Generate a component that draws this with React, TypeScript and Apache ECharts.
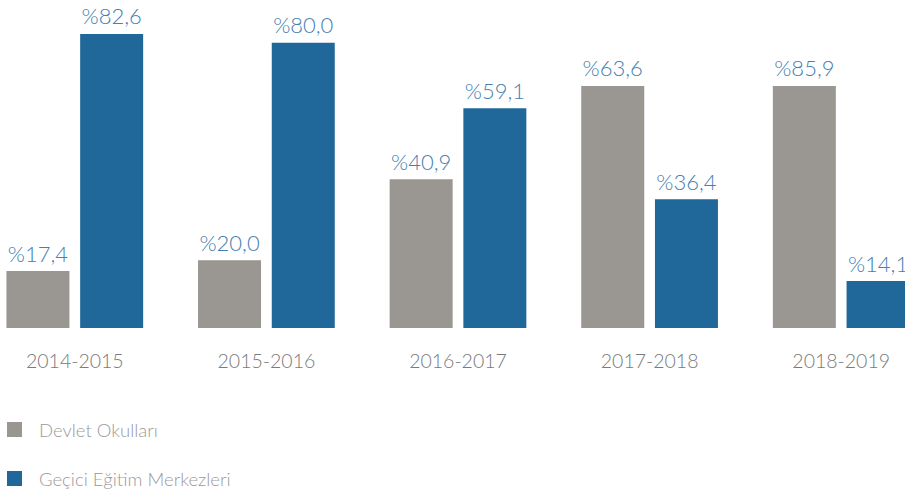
import React, { useEffect, useRef } from "react";
import * as echarts from "echarts";

// Categories (school years)
const years = ["2014-2015", "2015-2016", "2016-2017", "2017-2018", "2018-2019"];
const seriesNames = ["Devlet Okulları", "Geçici Eğitim Merkezleri"];

// Printed percentage labels
const devletLabels = [17.4, 20.0, 40.9, 63.6, 85.9];
const gemLabels = [82.6, 80.0, 59.1, 36.4, 14.1];

// Bar heights as drawn in the reference (same scale)
const devletBars = [16.0, 19.0, 41.8, 68.0, 68.0];
const gemBars = [82.6, 80.1, 61.7, 36.2, 13.2];

const GREY = "#9a9691";
const BLUE = "#206899";
const LABEL_BLUE = "#4580b0";
const FONT = "Lato, 'Open Sans', sans-serif";

const fmt = (v: number) => "%" + v.toFixed(1).replace(".", ",");

export default function App() {
  const ref = useRef<HTMLDivElement>(null);
  useEffect(() => {
    if (!ref.current) return;
    const chart = echarts.init(ref.current, undefined, { renderer: "svg" });
    const labelStyle = (labels: number[]) => ({
      show: true,
      position: "top" as const,
      distance: 7,
      fontFamily: FONT,
      fontWeight: 300 as any,
      fontSize: 22,
      color: LABEL_BLUE,
      formatter: (p: any) => fmt(labels[p.dataIndex]),
    });
    chart.setOption({
      animation: false,
      backgroundColor: "#ffffff",
      grid: { left: 0, right: 0, top: 7.6, bottom: 164, containLabel: false },
      legend: {
        orient: "vertical",
        left: 28,
        top: 420,
        padding: 0,
        itemWidth: 15,
        itemHeight: 15,
        itemGap: 30,
        icon: "rect",
        data: seriesNames,
        textStyle: {
          fontFamily: FONT,
          fontWeight: 300 as any,
          fontSize: 18.5,
          color: "#9a9a9a",
          padding: [0, 0, 0, 12],
        },
      },
      xAxis: {
        type: "category",
        data: years,
        axisLine: { show: false },
        axisTick: { show: false },
        axisLabel: {
          margin: 22,
          fontFamily: FONT,
          fontWeight: 300 as any,
          fontSize: 19.5,
          color: "#7a7a7a",
        },
      },
      yAxis: {
        type: "value",
        min: 0,
        max: 90,
        show: false,
        splitLine: { show: false },
      },
      series: [
        {
          name: seriesNames[0],
          type: "bar",
          data: devletBars,
          barWidth: 63,
          barGap: "17%",
          itemStyle: { color: GREY },
          label: labelStyle(devletLabels),
        },
        {
          name: seriesNames[1],
          type: "bar",
          data: gemBars,
          barWidth: 63,
          barGap: "17%",
          itemStyle: { color: BLUE },
          label: labelStyle(gemLabels),
        },
      ],
    });
    return () => chart.dispose();
  }, []);
  return (
    <div
      ref={ref}
      style={{ position: "fixed", left: -21, top: 0, width: 958, height: 492, background: "#fff" }}
    />
  );
}
